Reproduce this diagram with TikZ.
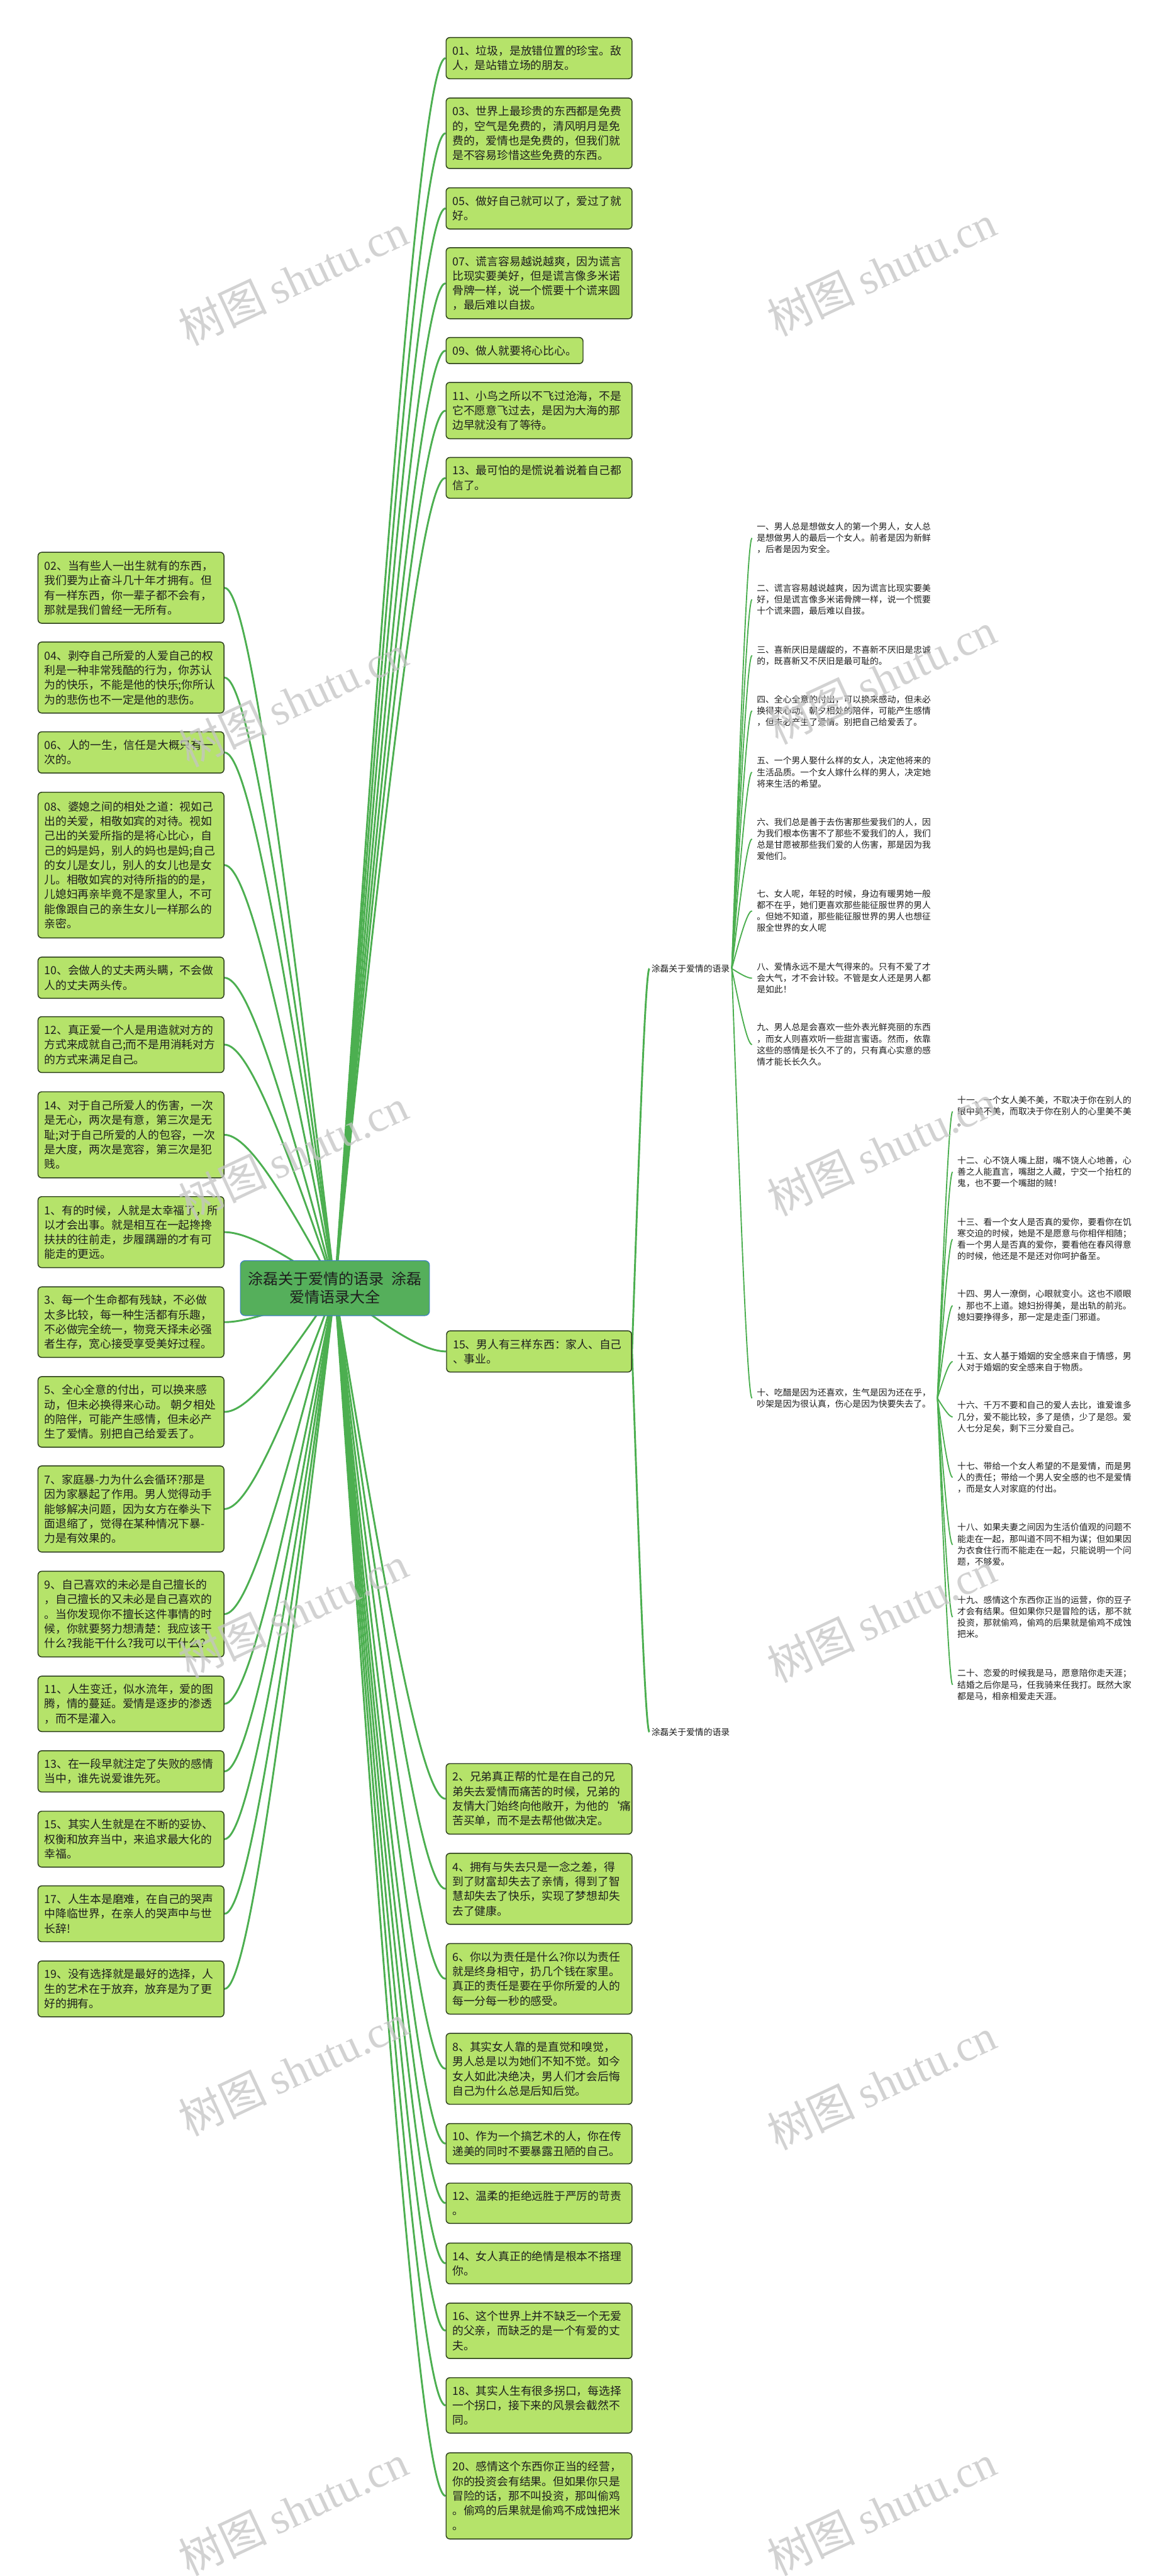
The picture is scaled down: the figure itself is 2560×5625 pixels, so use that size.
\documentclass[tikz,border=0pt]{standalone}
\usepackage{fontspec}
\setmainfont{Noto Sans CJK SC}
\newfontfamily\wmlat{Liberation Serif}
\usetikzlibrary{calc}
\pgfdeclarelayer{bg}
\pgfdeclarelayer{fg}
\pgfsetlayers{bg,main,fg}
\definecolor{boxfill}{HTML}{B5E36A}
\definecolor{boxline}{HTML}{2C3E1C}
\definecolor{rootfill}{HTML}{55AF5B}
\definecolor{rootline}{HTML}{3C7EC0}
\definecolor{linkc}{HTML}{4CAF50}
\definecolor{txt}{HTML}{1E1E1E}
\definecolor{wm}{HTML}{C4C4C4}
\tikzset{
 gbox/.style={draw=boxline, line width=1pt, fill=boxfill, rounded corners=4pt, anchor=north west, align=left, text width=189pt, inner xsep=7pt, inner ysep=0pt, minimum height=#1, font=\fontsize{12.2pt}{16pt}\selectfont, text=txt},
 rootbox/.style={draw=rootline, line width=0.8pt, fill=rootfill, rounded corners=5pt, anchor=north west, align=center, minimum width=206.5pt, minimum height=60pt, inner sep=0pt, font=\fontsize{16.5pt}{20pt}\selectfont, text=txt},
 itemtxt/.style={anchor=west, align=left, text width=192pt, inner xsep=5pt, inner ysep=1pt, font=\fontsize{9.5pt}{12.5pt}\selectfont, text=txt},
 labtxt/.style={anchor=west, inner xsep=2pt, font=\fontsize{9.5pt}{12pt}\selectfont, text=txt},
 link/.style={draw=linkc, line width=2pt},
 sublink/.style={draw=linkc, line width=1.3pt},
 wmark/.style={text=wm, text opacity=0.75, rotate=25, font=\fontsize{48pt}{48pt}\selectfont}
}
\newcommand\lnk[3][link]{\draw[#1] let \p1=(#2), \p2=(#3) in (\p1) .. controls ({\x1+0.5*(\x2-\x1)},{\y1+0.6667*(\y2-\y1)}) and ({\x2-0.2*(\x2-\x1)},\y2) .. (\p2);}
\begin{document}
\begin{tikzpicture}[x=0.5pt,y=-0.5pt]
\useasboundingbox (0,0) rectangle (2560,5625);
\begin{pgfonlayer}{bg}
\fill[white] (0,0) rectangle (2560,5625);
\end{pgfonlayer}

% root
\node[rootbox] (c) at (524,2752) {涂磊关于爱情的语录\hspace{8pt}涂磊\\爱情语录大全};

% right top column
\node[gbox=45pt] (r01) at (973,81) {01、垃圾，是放错位置的珍宝。敌\\人，是站错立场的朋友。};
\node[gbox=77pt] (r03) at (973,213) {03、世界上最珍贵的东西都是免费\\的，空气是免费的，清风明月是免\\费的，爱情也是免费的，但我们就\\是不容易珍惜这些免费的东西。};
\node[gbox=45pt] (r05) at (973,409) {05、做好自己就可以了，爱过了就\\好。};
\node[gbox=77.5pt] (r07) at (973,540) {07、谎言容易越说越爽，因为谎言\\比现实要美好，但是谎言像多米诺\\骨牌一样，说一个慌要十个谎来圆\\，最后难以自拔。};
\node[gbox=28.5pt, text width=135.5pt] (r09) at (973,736) {09、做人就要将心比心。};
\node[gbox=61.5pt] (r11) at (973,834) {11、小鸟之所以不飞过沧海，不是\\它不愿意飞过去，是因为大海的那\\边早就没有了等待。};
\node[gbox=44.5pt] (r13) at (973,998) {13、最可怕的是慌说着说着自己都\\信了。};

% left column
\node[gbox=77.5pt] (l02) at (82,1205) {02、当有些人一出生就有的东西，\\我们要为止奋斗几十年才拥有。但\\有一样东西，你一辈子都不会有，\\那就是我们曾经一无所有。};
\node[gbox=77.5pt] (l04) at (82,1401) {04、剥夺自己所爱的人爱自己的权\\利是一种非常残酷的行为，你苏认\\为的快乐，不能是他的快乐;你所认\\为的悲伤也不一定是他的悲伤。};
\node[gbox=45pt] (l06) at (82,1597) {06、人的一生，信任是大概只有一\\次的。};
\node[gbox=159pt] (l08) at (82,1729) {08、婆媳之间的相处之道：视如己\\出的关爱，相敬如宾的对待。视如\\己出的关爱所指的是将心比心，自\\己的妈是妈，别人的妈也是妈;自己\\的女儿是女儿，别人的女儿也是女\\儿。相敬如宾的对待所指的的是，\\儿媳妇再亲毕竟不是家里人，不可\\能像跟自己的亲生女儿一样那么的\\亲密。};
\node[gbox=45pt] (l10) at (82,2089) {10、会做人的丈夫两头瞒，不会做\\人的丈夫两头传。};
\node[gbox=61pt] (l12) at (82,2219) {12、真正爱一个人是用造就对方的\\方式来成就自己;而不是用消耗对方\\的方式来满足自己。};
\node[gbox=94pt] (l14) at (82,2383) {14、对于自己所爱人的伤害，一次\\是无心，两次是有意，第三次是无\\耻;对于自己所爱的人的包容，一次\\是大度，两次是宽容，第三次是犯\\贱。};
\node[gbox=77.5pt] (l1) at (82,2612) {1、有的时候，人就是太幸福了，所\\以才会出事。就是相互在一起搀搀\\扶扶的往前走，步履蹒跚的才有可\\能走的更远。};
\node[gbox=77pt] (l3) at (82,2809) {3、每一个生命都有残缺，不必做\\太多比较，每一种生活都有乐趣，\\不必做完全统一，物竞天择未必强\\者生存，宽心接受享受美好过程。};
\node[gbox=77pt] (l5) at (82,3005) {5、全心全意的付出，可以换来感\\动，但未必换得来心动。~朝夕相处\\的陪伴，可能产生感情，但未必产\\生了爱情。别把自己给爱丢了。};
\node[gbox=94pt] (l7) at (82,3200) {7、家庭暴-力为什么会循环?那是\\因为家暴起了作用。男人觉得动手\\能够解决问题，因为女方在拳头下\\面退缩了，觉得在某种情况下暴-\\力是有效果的。};
\node[gbox=93.5pt] (l9) at (82,3430) {9、自己喜欢的未必是自己擅长的\\，自己擅长的又未必是自己喜欢的\\。当你发现你不擅长这件事情的时\\候，你就要努力想清楚：我应该干\\什么?我能干什么?我可以干什么?};
\node[gbox=60.5pt] (l11) at (82,3659) {11、人生变迁，似水流年，爱的图\\腾，情的蔓延。爱情是逐步的渗透\\，而不是灌入。};
\node[gbox=45pt] (l13) at (82,3822) {13、在一段早就注定了失败的感情\\当中，谁先说爱谁先死。};
\node[gbox=61pt] (l15) at (82,3954) {15、其实人生就是在不断的妥协、\\权衡和放弃当中，来追求最大化的\\幸福。};
\node[gbox=61pt] (l17) at (82,4117) {17、人生本是磨难，在自己的哭声\\中降临世界，在亲人的哭声中与世\\长辞!};
\node[gbox=61pt] (l19) at (82,4281) {19、没有选择就是最好的选择，人\\生的艺术在于放弃，放弃是为了更\\好的拥有。};

% right middle column
\node[gbox=45pt, text width=188pt] (r15) at (974,2905) {15、男人有三样东西：家人、自己\\、事业。};
\node[gbox=77pt] (m2) at (973,3850) {2、兄弟真正帮的忙是在自己的兄\\弟失去爱情而痛苦的时候，兄弟的\\友情大门始终向他敞开，为他的{\char"60}痛\\苦买单，而不是去帮他做决定。};
\node[gbox=77.5pt] (m4) at (973,4046) {4、拥有与失去只是一念之差，得\\到了财富却失去了亲情，得到了智\\慧却失去了快乐，实现了梦想却失\\去了健康。};
\node[gbox=77pt] (m6) at (973,4243) {6、你以为责任是什么?你以为责任\\就是终身相守，扔几个钱在家里。\\真正的责任是要在乎你所爱的人的\\每一分每一秒的感受。};
\node[gbox=77.5pt] (m8) at (973,4439) {8、其实女人靠的是直觉和嗅觉，\\男人总是以为她们不知不觉。如今\\女人如此决绝决，男人们才会后悔\\自己为什么总是后知后觉。};
\node[gbox=44pt] (m10) at (973,4636) {10、作为一个搞艺术的人，你在传\\递美的同时不要暴露丑陋的自己。};
\node[gbox=44pt] (m12) at (973,4766) {12、温柔的拒绝远胜于严厉的苛责\\。};
\node[gbox=44.5pt] (m14) at (973,4897) {14、女人真正的绝情是根本不搭理\\你。};
\node[gbox=60.5pt] (m16) at (973,5028) {16、这个世界上并不缺乏一个无爱\\的父亲，而缺乏的是一个有爱的丈\\夫。};
\node[gbox=60.5pt] (m18) at (973,5191) {18、其实人生有很多拐口，每选择\\一个拐口，接下来的风景会截然不\\同。};
\node[gbox=94pt] (m20) at (973,5355) {20、感情这个东西你正当的经营，\\你的投资会有结果。但如果你只是\\冒险的话，那不叫投资，那叫偷鸡\\。偷鸡的后果就是偷鸡不成蚀把米\\。};

% labels
\node[labtxt] (L1) at (1418,2115) {涂磊关于爱情的语录};
\node[labtxt] (L2) at (1418,3782) {涂磊关于爱情的语录};

% list 1
\node[itemtxt] (i1) at (1642,1175) {一、男人总是想做女人的第一个男人，女人总\\是想做男人的最后一个女人。前者是因为新鲜\\，后者是因为安全。};
\node[itemtxt] (i2) at (1642,1309) {二、谎言容易越说越爽，因为谎言比现实要美\\好，但是谎言像多米诺骨牌一样，说一个慌要\\十个谎来圆，最后难以自拔。};
\node[itemtxt] (i3) at (1642,1431) {三、喜新厌旧是龌龊的，不喜新不厌旧是忠诚\\的，既喜新又不厌旧是最可耻的。};
\node[itemtxt] (i4) at (1642,1552) {四、全心全意的付出，可以换来感动，但未必\\换得来心动。朝夕相处的陪伴，可能产生感情\\，但未必产生了爱情。别把自己给爱丢了。};
\node[itemtxt] (i5) at (1642,1686) {五、一个男人娶什么样的女人，决定他将来的\\生活品质。一个女人嫁什么样的男人，决定她\\将来生活的希望。};
\node[itemtxt] (i6) at (1642,1832) {六、我们总是善于去伤害那些爱我们的人，因\\为我们根本伤害不了那些不爱我们的人，我们\\总是甘愿被那些我们爱的人伤害，那是因为我\\爱他们。};
\node[itemtxt] (i7) at (1642,1989) {七、女人呢，年轻的时候，身边有暖男她一般\\都不在乎，她们更喜欢那些能征服世界的男人\\。但她不知道，那些能征服世界的男人也想征\\服全世界的女人呢};
\node[itemtxt] (i8) at (1642,2136) {八、爱情永远不是大气得来的。只有不爱了才\\会大气，才不会计较。不管是女人还是男人都\\是如此！};
\node[itemtxt] (i9) at (1642,2281) {九、男人总是会喜欢一些外表光鲜亮丽的东西\\，而女人则喜欢听一些甜言蜜语。然而，依靠\\这些的感情是长久不了的，只有真心实意的感\\情才能长长久久。};
\node[itemtxt] (i10) at (1642,3053) {十、吃醋是因为还喜欢，生气是因为还在乎，\\吵架是因为很认真，伤心是因为快要失去了。};

% list 2
\node[itemtxt] (j11) at (2080,2427) {十一、一个女人美不美，不取决于你在别人的\\眼中美不美，而取决于你在别人的心里美不美\\。};
\node[itemtxt] (j12) at (2080,2559) {十二、心不饶人嘴上甜，嘴不饶人心地善，心\\善之人能直言，嘴甜之人藏，宁交一个抬杠的\\鬼，也不要一个嘴甜的贼！};
\node[itemtxt] (j13) at (2080,2706) {十三、看一个女人是否真的爱你，要看你在饥\\寒交迫的时候，她是不是愿意与你相伴相随；\\看一个男人是否真的爱你，要看他在春风得意\\的时候，他还是不是还对你呵护备至。};
\node[itemtxt] (j14) at (2080,2851) {十四、男人一潦倒，心眼就变小。这也不顺眼\\，那也不上道。媳妇扮得美，是出轨的前兆。\\媳妇要挣得多，那一定是走歪门邪道。};
\node[itemtxt] (j15) at (2080,2973) {十五、女人基于婚姻的安全感来自于情感，男\\人对于婚姻的安全感来自于物质。};
\node[itemtxt] (j16) at (2080,3094) {十六、千万不要和自己的爱人去比，谁爱谁多\\几分，爱不能比较，多了是债，少了是怨。爱\\人七分足矣，剩下三分爱自己。};
\node[itemtxt] (j17) at (2080,3226) {十七、带给一个女人希望的不是爱情，而是男\\人的责任；带给一个男人安全感的也不是爱情\\，而是女人对家庭的付出。};
\node[itemtxt] (j18) at (2080,3373) {十八、如果夫妻之间因为生活价值观的问题不\\能走在一起，那叫道不同不相为谋；但如果因\\为衣食住行而不能走在一起，只能说明一个问\\题，不够爱。};
\node[itemtxt] (j19) at (2080,3531) {十九、感情这个东西你正当的运营，你的豆子\\才会有结果。但如果你只是冒险的话，那不就\\投资，那就偷鸡，偷鸡的后果就是偷鸡不成蚀\\把米。};
\node[itemtxt] (j20) at (2080,3679) {二十、恋爱的时候我是马，愿意陪你走天涯；\\结婚之后你是马，任我骑来任我打。既然大家\\都是马，相亲相爱走天涯。};

% connectors
\begin{pgfonlayer}{bg}
\foreach \t in {r01,r03,r05,r07,r09,r11,r13,r15,m2,m4,m6,m8,m10,m12,m14,m16,m18,m20}{\lnk{c.center}{\t.west}}
\foreach \t in {l02,l04,l06,l08,l10,l12,l14,l1,l3,l5,l7,l9,l11,l13,l15,l17,l19}{\lnk{c.center}{\t.east}}
\lnk{r15.east}{L1.west}
\lnk{r15.east}{L2.west}
\foreach \t in {i1,i2,i3,i4,i5,i6,i7,i8,i9,i10}{\lnk[sublink]{L1.east}{\t.west}}
\foreach \t in {j11,j12,j13,j14,j15,j16,j17,j18,j19,j20}{\lnk[sublink]{i10.east}{\t.west}}
\end{pgfonlayer}

% watermarks
\begin{pgfonlayer}{fg}
\foreach \wy in {610,1530,2520,3520,4520,5480}{\node[wmark] at (640,\wy) {树图\hspace{10pt}{\wmlat shutu.cn}};}
\foreach \wy in {590,1480,2510,3530,4550,5480}{\node[wmark] at (1925,\wy) {树图\hspace{10pt}{\wmlat shutu.cn}};}
\end{pgfonlayer}
\end{tikzpicture}
\end{document}
